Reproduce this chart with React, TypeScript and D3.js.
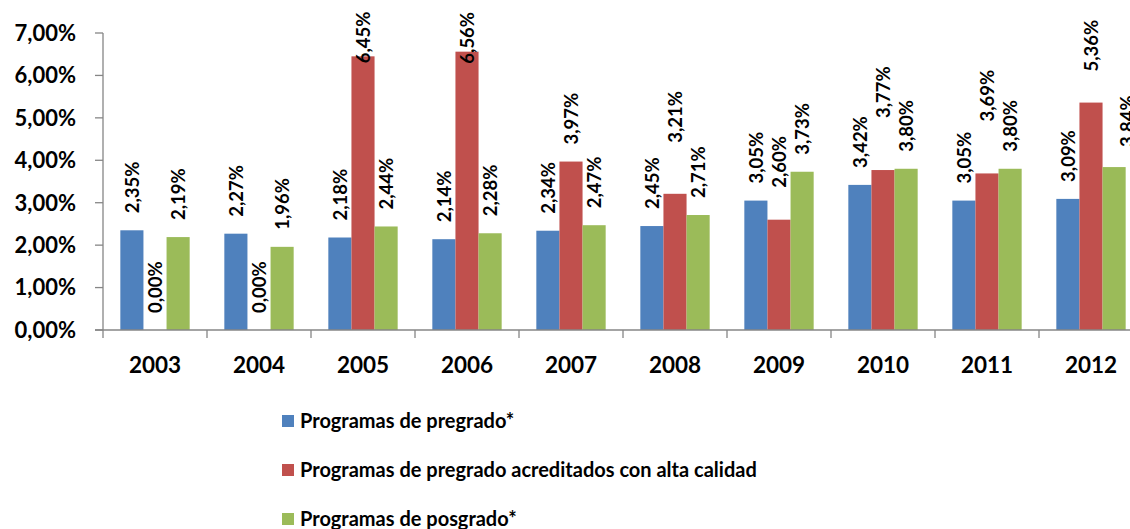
import React, { useRef, useEffect } from 'react';
import * as d3 from 'd3';

const years = ['2003', '2004', '2005', '2006', '2007', '2008', '2009', '2010', '2011', '2012'];
const pregrado = [2.35, 2.27, 2.18, 2.14, 2.34, 2.45, 3.05, 3.42, 3.05, 3.09];
const acreditados = [0.0, 0.0, 6.45, 6.56, 3.97, 3.21, 2.6, 3.77, 3.69, 5.36];
const posgrado = [2.19, 1.96, 2.44, 2.28, 2.47, 2.71, 3.73, 3.8, 3.8, 3.84];
const seriesNames = [
  'Programas de pregrado*',
  'Programas de pregrado acreditados con alta calidad',
  'Programas de posgrado*',
];
const yTicks = [0, 1, 2, 3, 4, 5, 6, 7];

const colors = ['#4F81BD', '#C0504D', '#9BBB59'];
// manual label lifts (px) like the hand-moved labels of the original
const labelLift: Record<string, number> = {
  '1-2': -24, '1-3': -29, '1-5': 34, '1-6': 15, '1-7': 35, '1-8': 35, '1-9': 14, '2-9': 3,
};
const labelShiftX: Record<string, number> = { '2-9': 13 };

const fmt = (v: number) => v.toFixed(2).replace('.', ',') + '%';

export default function App() {
  const svgRef = useRef<SVGSVGElement>(null);

  useEffect(() => {
    const width = 1130;
    const height = 529;
    const left = 103;
    const top = 33;
    const bottom = 330;
    const font = "Lato, 'Open Sans', sans-serif";
    const series = [pregrado, acreditados, posgrado];

    const svg = d3.select(svgRef.current)
      .attr('width', width)
      .attr('height', height)
      .style('font-family', font);
    svg.selectAll('*').remove();

    const y = d3.scaleLinear().domain([0, 7]).range([bottom, top]);
    const x0 = d3.scaleBand().domain(years).range([left, left + 104 * years.length]);
    const gap = (x0.bandwidth() * 1.5) / 4.5;
    const x1 = d3.scaleBand<number>().domain([0, 1, 2]).range([gap / 2, x0.bandwidth() - gap / 2]);

    // bars
    series.forEach((vals, s) => {
      svg.append('g')
        .selectAll('rect')
        .data(vals)
        .join('rect')
        .attr('x', (d, i) => x0(years[i])! + x1(s)!)
        .attr('y', d => y(d))
        .attr('width', x1.bandwidth())
        .attr('height', d => y(0) - y(d))
        .attr('fill', colors[s]);
    });

    // axes
    const axisColor = '#868686';
    svg.append('line')
      .attr('x1', left).attr('x2', left)
      .attr('y1', y(7)).attr('y2', y(0))
      .attr('stroke', axisColor).attr('stroke-width', 1.3);
    svg.append('line')
      .attr('x1', left - 8).attr('x2', width)
      .attr('y1', y(0)).attr('y2', y(0))
      .attr('stroke', axisColor).attr('stroke-width', 1.3);

    yTicks.forEach(t => {
      svg.append('line')
        .attr('x1', left - 8).attr('x2', left)
        .attr('y1', y(t)).attr('y2', y(t))
        .attr('stroke', axisColor).attr('stroke-width', 1.3);
      svg.append('text')
        .attr('x', 76)
        .attr('y', y(t))
        .attr('dy', '0.36em')
        .attr('text-anchor', 'end')
        .style('font-size', '22px')
        .style('font-weight', 700)
        .text(fmt(t));
    });

    years.forEach(yr => {
      svg.append('line')
        .attr('x1', x0(yr)!).attr('x2', x0(yr)!)
        .attr('y1', y(0)).attr('y2', y(0) + 8)
        .attr('stroke', axisColor).attr('stroke-width', 1.3);
      svg.append('text')
        .attr('x', x0(yr)! + x0.bandwidth() / 2)
        .attr('y', 373)
        .attr('text-anchor', 'middle')
        .style('font-size', '22.5px')
        .style('font-weight', 700)
        .text(yr);
    });

    // data labels, rotated
    series.forEach((vals, s) => {
      vals.forEach((v, i) => {
        const key = `${s}-${i}`;
        const cx = x0(years[i])! + x1(s)! + x1.bandwidth() / 2 + (labelShiftX[key] || 0);
        const by = y(v) - 17 - (labelLift[key] || 0);
        svg.append('text')
          .attr('transform', `translate(${cx},${by}) rotate(-90)`)
          .attr('dy', '0.36em')
          .attr('text-anchor', 'start')
          .style('font-size', '18.5px')
          .style('font-weight', 700)
          .text(fmt(v));
      });
    });

    // legend
    seriesNames.forEach((name, s) => {
      const cy = 421 + s * 49;
      svg.append('rect')
        .attr('x', 282).attr('y', cy - 6)
        .attr('width', 12).attr('height', 12)
        .attr('fill', colors[s]);
      svg.append('text')
        .attr('x', 300)
        .attr('y', cy + 6.5)
        .style('font-size', '20px')
        .style('font-weight', 700)
        .text(name);
    });
  }, []);

  return <svg ref={svgRef} style={{ position: 'absolute', left: 0, top: 0 }}></svg>;
}
